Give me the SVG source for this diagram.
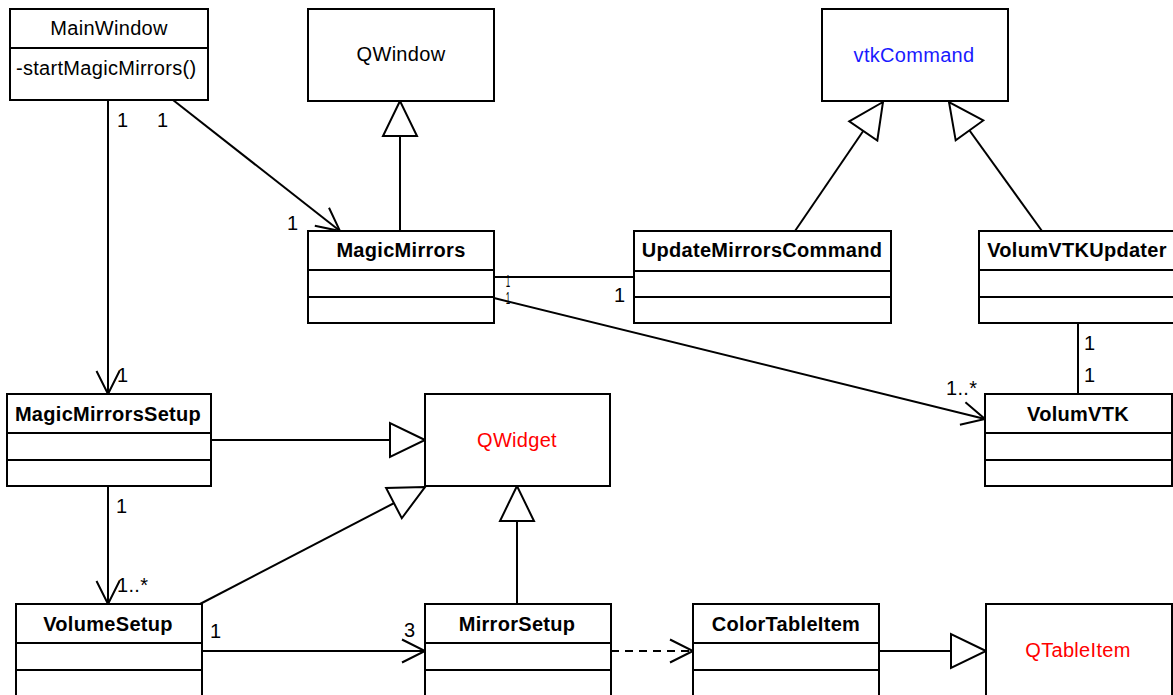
<svg xmlns="http://www.w3.org/2000/svg" width="1173" height="695" viewBox="0 0 1173 695">
  <style>
    text { font-family: "Liberation Sans", Arial, Helvetica, sans-serif; font-size: 20px; letter-spacing: 0.3px; fill: #000; }
    .title { font-weight: bold; text-anchor: middle; }
    .plain { text-anchor: middle; }
    .red { fill: #ff0000; }
    .blue { fill: #1a1aff; }
    .box { fill: #fff; stroke: #000; stroke-width: 2; }
    .div { stroke: #000; stroke-width: 2; fill: none; }
    .edge { stroke: #000; stroke-width: 2; fill: none; }
    .dash { stroke-dasharray: 8 6; }
    .assoc { marker-end: url(#openArrow); }
    .inherit { marker-end: url(#hollowTri); }
  </style>
  <defs>
    <marker id="openArrow" markerUnits="userSpaceOnUse" markerWidth="40" markerHeight="40" refX="0" refY="0" orient="auto" overflow="visible">
      <path d="M-23,-11.5 L0,0 L-23,11.5" fill="none" stroke="#000" stroke-width="2"/>
    </marker>
    <marker id="hollowTri" markerUnits="userSpaceOnUse" markerWidth="40" markerHeight="40" refX="0" refY="0" orient="auto" overflow="visible">
      <path d="M0,0 L-35,-17 L-35,17 Z" fill="#fff" stroke="#000" stroke-width="2"/>
    </marker>
  </defs>

  <!-- connectors -->
  <g id="connectors">
    <!-- MainWindow -> MagicMirrorsSetup -->
    <line class="edge assoc" x1="108" y1="100" x2="108" y2="394"/>
    <!-- MainWindow -> MagicMirrors -->
    <line class="edge assoc" x1="173" y1="100" x2="340" y2="231"/>
    <!-- MagicMirrors inherits QWindow -->
    <line class="edge inherit" x1="400" y1="231" x2="400" y2="101"/>
    <!-- UpdateMirrorsCommand inherits vtkCommand -->
    <line class="edge inherit" x1="795" y1="231" x2="883" y2="102"/>
    <!-- VolumVTKUpdater inherits vtkCommand -->
    <line class="edge inherit" x1="1042" y1="231" x2="949" y2="102"/>
    <!-- MagicMirrors - UpdateMirrorsCommand -->
    <line class="edge" x1="494" y1="277" x2="634" y2="277"/>
    <!-- MagicMirrors -> VolumVTK -->
    <line class="edge assoc" x1="494" y1="298" x2="985" y2="419"/>
    <!-- VolumVTKUpdater - VolumVTK -->
    <line class="edge" x1="1078" y1="323" x2="1078" y2="394"/>
    <!-- MagicMirrorsSetup inherits QWidget -->
    <line class="edge inherit" x1="211" y1="440" x2="425" y2="440"/>
    <!-- MagicMirrorsSetup -> VolumeSetup -->
    <line class="edge assoc" x1="108" y1="486" x2="108" y2="604"/>
    <!-- VolumeSetup inherits QWidget -->
    <line class="edge inherit" x1="200" y1="604" x2="425" y2="487"/>
    <!-- VolumeSetup -> MirrorSetup -->
    <line class="edge assoc" x1="202" y1="651" x2="425" y2="651"/>
    <!-- MirrorSetup inherits QWidget -->
    <line class="edge inherit" x1="517" y1="604" x2="517" y2="486"/>
    <!-- MirrorSetup uses ColorTableItem -->
    <line class="edge dash assoc" x1="611" y1="651" x2="693" y2="651"/>
    <!-- ColorTableItem inherits QTableItem -->
    <line class="edge inherit" x1="879" y1="651" x2="986" y2="651"/>

    <!-- multiplicities -->
    <text x="117" y="127">1</text>
    <text x="157" y="127">1</text>
    <text x="287" y="230">1</text>
    <text x="117" y="382">1</text>
    <text transform="translate(508,287) scale(0.4,0.8)" class="plain">1</text>
    <text transform="translate(508,304) scale(0.4,0.8)" class="plain">1</text>
    <text x="614" y="302">1</text>
    <text x="946" y="395">1..*</text>
    <text x="1084" y="350">1</text>
    <text x="1084" y="382">1</text>
    <text x="116" y="513">1</text>
    <text x="117" y="592">1..*</text>
    <text x="210" y="638">1</text>
    <text x="404" y="637">3</text>
  </g>

  <!-- classes -->
  <g id="MainWindow">
    <rect class="box" x="10" y="9" width="198" height="91"/>
    <line class="div" x1="10" y1="48" x2="208" y2="48"/>
    <text class="plain" x="109" y="35">MainWindow</text>
    <text x="16" y="75">-startMagicMirrors()</text>
  </g>

  <g id="QWindow">
    <rect class="box" x="308" y="9" width="186" height="92"/>
    <text class="plain" x="401" y="61">QWindow</text>
  </g>

  <g id="vtkCommand">
    <rect class="box" x="822" y="9" width="186" height="92"/>
    <text class="plain blue" x="914" y="62">vtkCommand</text>
  </g>

  <g id="MagicMirrors">
    <rect class="box" x="308" y="231" width="186" height="92"/>
    <line class="div" x1="308" y1="270" x2="494" y2="270"/>
    <line class="div" x1="308" y1="297" x2="494" y2="297"/>
    <text class="title" x="401" y="257">MagicMirrors</text>
  </g>

  <g id="UpdateMirrorsCommand">
    <rect class="box" x="634" y="231" width="257" height="92"/>
    <line class="div" x1="634" y1="271" x2="891" y2="271"/>
    <line class="div" x1="634" y1="297" x2="891" y2="297"/>
    <text class="title" x="762" y="257">UpdateMirrorsCommand</text>
  </g>

  <g id="VolumVTKUpdater">
    <rect class="box" x="979" y="231" width="200" height="92"/>
    <line class="div" x1="979" y1="270" x2="1179" y2="270"/>
    <line class="div" x1="979" y1="297" x2="1179" y2="297"/>
    <text class="title" x="1077" y="257">VolumVTKUpdater</text>
  </g>

  <g id="MagicMirrorsSetup">
    <rect class="box" x="7" y="394" width="204" height="92"/>
    <line class="div" x1="7" y1="433" x2="211" y2="433"/>
    <line class="div" x1="7" y1="460" x2="211" y2="460"/>
    <text class="title" x="108" y="421">MagicMirrorsSetup</text>
  </g>

  <g id="QWidget">
    <rect class="box" x="425" y="394" width="185" height="92"/>
    <text class="plain red" x="517" y="447">QWidget</text>
  </g>

  <g id="VolumVTK">
    <rect class="box" x="985" y="394" width="187" height="92"/>
    <line class="div" x1="985" y1="433" x2="1172" y2="433"/>
    <line class="div" x1="985" y1="460" x2="1172" y2="460"/>
    <text class="title" x="1078" y="421">VolumVTK</text>
  </g>

  <g id="VolumeSetup">
    <rect class="box" x="16" y="604" width="186" height="100"/>
    <line class="div" x1="16" y1="643" x2="202" y2="643"/>
    <line class="div" x1="16" y1="670" x2="202" y2="670"/>
    <text class="title" x="108" y="631">VolumeSetup</text>
  </g>

  <g id="MirrorSetup">
    <rect class="box" x="425" y="604" width="186" height="100"/>
    <line class="div" x1="425" y1="643" x2="611" y2="643"/>
    <line class="div" x1="425" y1="670" x2="611" y2="670"/>
    <text class="title" x="517" y="631">MirrorSetup</text>
  </g>

  <g id="ColorTableItem">
    <rect class="box" x="693" y="604" width="186" height="100"/>
    <line class="div" x1="693" y1="643" x2="879" y2="643"/>
    <line class="div" x1="693" y1="670" x2="879" y2="670"/>
    <text class="title" x="786" y="631">ColorTableItem</text>
  </g>

  <g id="QTableItem">
    <rect class="box" x="986" y="604" width="186" height="100"/>
    <text class="plain red" x="1078" y="657">QTableItem</text>
  </g>
</svg>
